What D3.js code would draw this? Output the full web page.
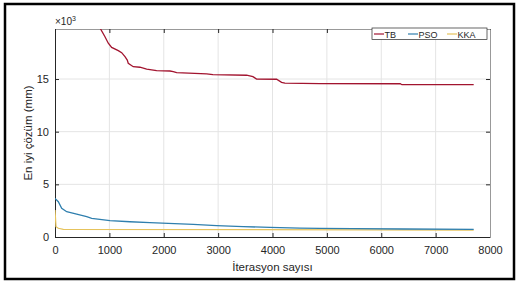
<!DOCTYPE html>
<html>
<head>
<meta charset="utf-8">
<script src="https://cdn.jsdelivr.net/npm/d3@7"></script>
<style>
  body { margin: 0; background: #fff; }
  text { font-family: "Liberation Sans", Arial, sans-serif; fill: #262626; }
</style>
</head>
<body>
<script>
// iteration / best solution (x10^3 mm)
var tbData = [[800, 20.1], [919, 19.02], [980, 18.4], [1042, 18.0], [1164, 17.7], [1226, 17.5],
  [1287, 17.12], [1329, 16.8], [1347, 16.5], [1439, 16.17], [1562, 16.12], [1686, 15.95],
  [1869, 15.8], [2114, 15.76], [2175, 15.7], [2237, 15.6], [2789, 15.48], [2904, 15.41],
  [3524, 15.36], [3640, 15.22], [3708, 15.0], [4075, 14.98], [4167, 14.69], [4228, 14.62],
  [4871, 14.56], [6350, 14.55], [6380, 14.46], [7700, 14.46]];
var psoData = [[0, 3.67], [61, 3.35], [123, 2.72], [215, 2.4], [399, 2.18], [583, 1.93],
  [675, 1.77], [1011, 1.55], [1379, 1.45], [1746, 1.36], [2083, 1.3], [2542, 1.2],
  [2972, 1.08], [3462, 0.98], [3952, 0.92], [4504, 0.85], [4871, 0.82], [5478, 0.79],
  [6397, 0.76], [7700, 0.73]];
var kkaData = [[0, 2.56], [18, 0.98], [61, 0.83], [153, 0.72], [7700, 0.66]];

var seriesNames = ["TB", "PSO", "KKA"];
var seriesColors = ["#a2142f", "#2f7fae", "#e6c35c"];
var xTicks = [0, 1000, 2000, 3000, 4000, 5000, 6000, 7000, 8000];
var yTicks = [0, 5, 10, 15];

var W = 518, H = 282;
var pLeft = 55, pRight = 490, pTop = 29, pBottom = 237;

var svg = d3.select("body").append("svg")
    .attr("width", W)
    .attr("height", H);

svg.append("rect")
    .attr("x", 5).attr("y", 4)
    .attr("width", 509).attr("height", 275)
    .attr("fill", "#fff")
    .attr("stroke", "#000")
    .attr("stroke-width", 2.5);

var x = d3.scaleLinear().domain([0, 8000]).range([pLeft, pRight]);
var y = d3.scaleLinear().domain([0, 19.75]).range([pBottom, pTop]);

// grid
svg.append("g").selectAll("line")
    .data(xTicks.slice(1, -1))
    .enter().append("line")
    .attr("x1", d => x(d)).attr("x2", d => x(d))
    .attr("y1", pTop).attr("y2", pBottom)
    .attr("stroke", "#e4e4e4").attr("stroke-width", 1);
svg.append("g").selectAll("line")
    .data(yTicks.slice(1))
    .enter().append("line")
    .attr("x1", pLeft).attr("x2", pRight)
    .attr("y1", d => y(d)).attr("y2", d => y(d))
    .attr("stroke", "#e4e4e4").attr("stroke-width", 1);

// box with ticks on all sides
var tickLen = 4;
var xAxis = svg.append("g")
    .attr("transform", "translate(0," + pBottom + ")")
    .call(d3.axisBottom(x).tickValues(xTicks).tickFormat(d3.format("d"))
        .tickSizeInner(-tickLen).tickSizeOuter(0).tickPadding(9));
var yAxis = svg.append("g")
    .attr("transform", "translate(" + pLeft + ",0)")
    .call(d3.axisLeft(y).tickValues(yTicks).tickSizeInner(-tickLen).tickSizeOuter(0).tickPadding(6));
svg.append("g")
    .attr("transform", "translate(0," + pTop + ")")
    .call(d3.axisTop(x).tickValues(xTicks).tickSizeInner(-tickLen).tickSizeOuter(0).tickFormat(""));
svg.append("g")
    .attr("transform", "translate(" + pRight + ",0)")
    .call(d3.axisRight(y).tickValues(yTicks).tickSizeInner(-tickLen).tickSizeOuter(0).tickFormat(""));

svg.selectAll(".domain").attr("stroke", "#999");
xAxis.select(".domain").attr("stroke", "#262626");
yAxis.select(".domain").attr("stroke", "#262626");
svg.selectAll(".tick line").attr("stroke", "#262626");
svg.selectAll(".tick text")
    .attr("font-size", 11)
    .style("font-family", "'Liberation Sans', Arial, sans-serif")
    .attr("fill", "#262626");

// lines
svg.append("clipPath").attr("id", "plotclip")
    .append("rect")
    .attr("x", pLeft).attr("y", pTop)
    .attr("width", pRight - pLeft).attr("height", pBottom - pTop);

var line = d3.line()
    .x(d => x(d[0]))
    .y(d => y(d[1]));

var plotG = svg.append("g").attr("clip-path", "url(#plotclip)");
[kkaData, psoData, tbData].forEach(function (data, i) {
    var idx = 2 - i;
    plotG.append("path")
        .datum(data)
        .attr("fill", "none")
        .attr("stroke", seriesColors[idx])
        .attr("stroke-width", 1.3)
        .attr("d", line);
});

// exponent label
var expo = svg.append("text")
    .attr("x", pLeft)
    .attr("y", 25)
    .attr("font-size", 10);
expo.append("tspan").text("\u00d710");
expo.append("tspan").attr("font-size", 7).attr("dy", -4).text("3");

// axis labels
svg.append("text")
    .attr("x", (pLeft + pRight) / 2)
    .attr("y", 271)
    .attr("text-anchor", "middle")
    .attr("font-size", 11.5)
    .text("\u0130terasyon say\u0131s\u0131");

svg.append("text")
    .attr("transform", "translate(32," + ((pTop + pBottom) / 2) + ") rotate(-90)")
    .attr("text-anchor", "middle")
    .attr("font-size", 11.5)
    .text("En iyi \u00e7\u00f6z\u00fcm (mm)");

// legend
var lg = svg.append("g");
lg.append("rect")
    .attr("x", 372).attr("y", 28)
    .attr("width", 115).attr("height", 11.5)
    .attr("fill", "#fff")
    .attr("stroke", "#262626")
    .attr("stroke-width", 0.7);
var legX = [374, 408, 447];
seriesNames.forEach(function (name, i) {
    lg.append("line")
        .attr("x1", legX[i]).attr("x2", legX[i] + 10)
        .attr("y1", 34).attr("y2", 34)
        .attr("stroke", seriesColors[i])
        .attr("stroke-width", 1.2);
    lg.append("text")
        .attr("x", legX[i] + 10.5)
        .attr("y", 37.5)
        .attr("font-size", 9)
        .text(name);
});
</script>
</body>
</html>
